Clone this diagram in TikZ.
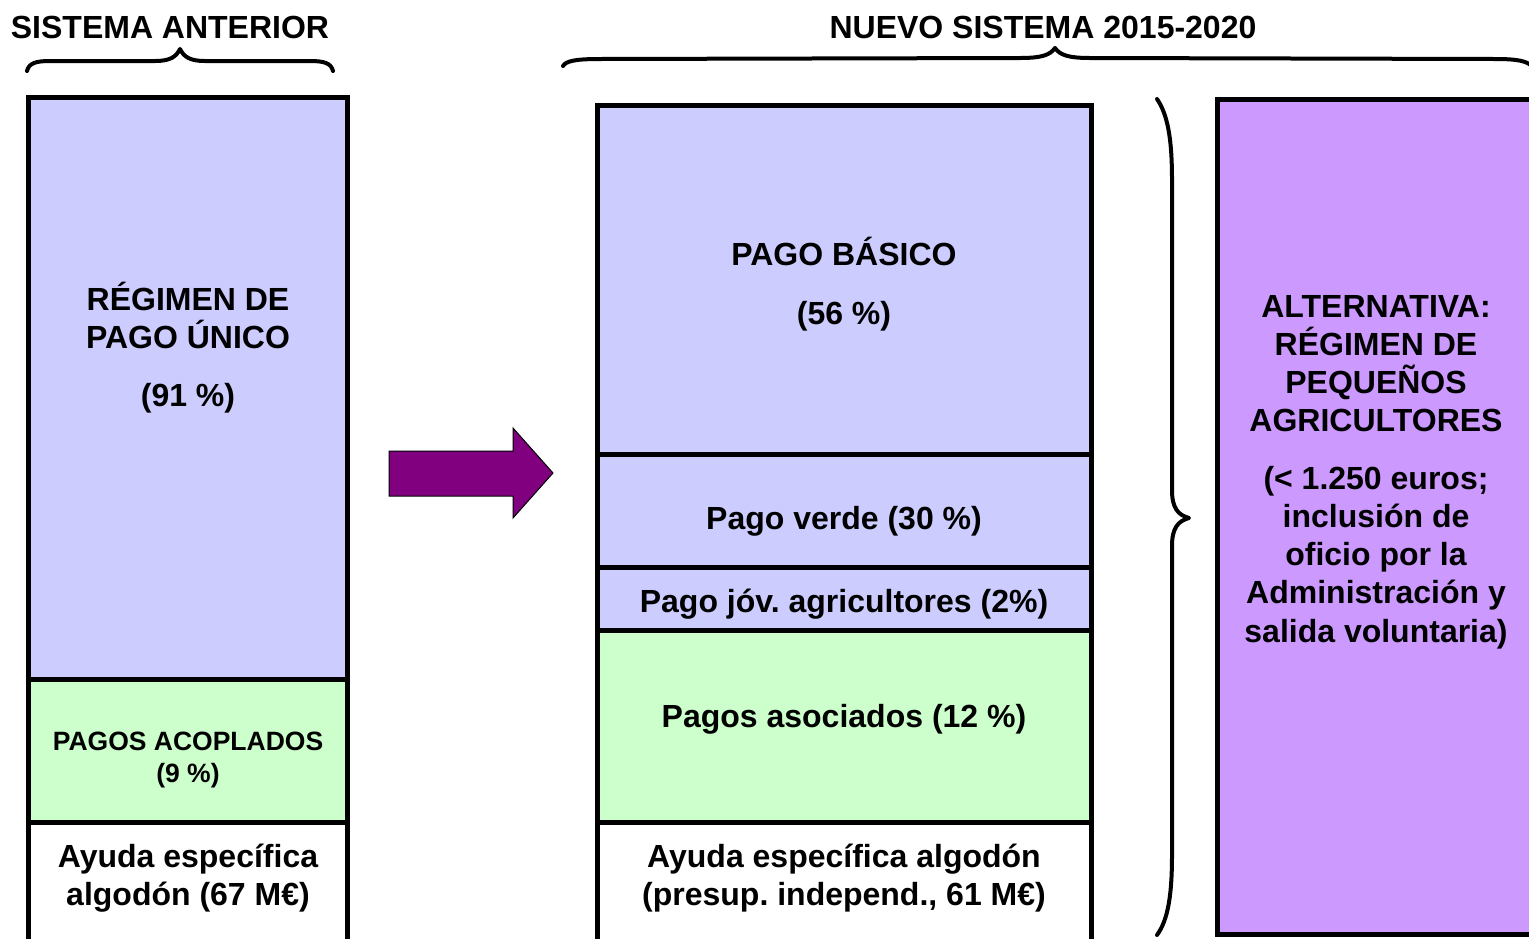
\documentclass[tikz,border=0pt]{standalone}
\usepackage{fontspec}
\setmainfont{Liberation Sans}
\definecolor{lav}{HTML}{CCCCFF}
\definecolor{grn}{HTML}{CCFFCC}
\definecolor{purp}{HTML}{CC99FF}
\definecolor{arrowc}{HTML}{800080}
\begin{document}
\frenchspacing
\begin{tikzpicture}[x=1pt,y=-1pt,
  seg/.style={draw=black,line width=5pt,anchor=north west,inner sep=0pt,outer sep=0pt},
  txt/.style={anchor=base,inner sep=0pt,font=\bfseries\fontsize{32}{38}\selectfont},
  smalltxt/.style={anchor=base,inner sep=0pt,font=\bfseries\fontsize{26.5}{32}\selectfont},
  bracepath/.style={draw=black,line width=4pt,line cap=round,line join=round}]
\useasboundingbox (0,0) rectangle (1529,938);
% left column
\node[seg,fill=lav,minimum width=319pt,minimum height=582pt] (lt) at (28.5,97) {};
\node[seg,fill=grn,minimum width=319pt,minimum height=143pt] (lm) at (28.5,679) {};
\node[seg,fill=white,minimum width=319pt,minimum height=120pt] (lb) at (28.5,822) {};
% middle column
\node[seg,fill=lav,minimum width=494pt,minimum height=349pt] (m1) at (597,105) {};
\node[seg,fill=lav,minimum width=494pt,minimum height=113pt] (m2) at (597,454) {};
\node[seg,fill=lav,minimum width=494pt,minimum height=63pt] (m3) at (597,567) {};
\node[seg,fill=grn,minimum width=494pt,minimum height=192pt] (m4) at (597,630) {};
\node[seg,fill=white,minimum width=494pt,minimum height=120pt] (m5) at (597,822) {};
% right box
\node[seg,fill=purp,minimum width=340pt,minimum height=835pt] (rb) at (1217,99.5) {};
% arrow
\draw[fill=arrowc,draw=black,line width=1pt,line join=miter]
  (389,451) -- (513,451) -- (513,428) -- (553,473) -- (513,518) -- (513,496) -- (389,496) -- cycle;
% titles
\node[txt] (t1) at (170,38.5) {SISTEMA ANTERIOR};
\node[txt] (t2) at (1043,38.5) {NUEVO SISTEMA 2015-2020};
% braces
\draw[bracepath] (27,71) .. controls (29,63) and (36,61) .. (50,61) -- (155,61)
  .. controls (170,61) and (176,57) .. (180,49) .. controls (184,57) and (190,61) .. (205,61)
  -- (310,61) .. controls (324,61) and (331,63) .. (333,71);
\draw[bracepath] (563,66) .. controls (566,61) and (575,59) .. (600,59) -- (1020,58)
  .. controls (1042,58) and (1050,55) .. (1055,48) .. controls (1060,55) and (1068,58) .. (1090,58)
  -- (1495,59) .. controls (1518,59) and (1526,61) .. (1532,66);
\draw[bracepath] (1157,99) .. controls (1168,115) and (1172,140) .. (1172,180) -- (1172,490)
  .. controls (1172,508) and (1178,515) .. (1189,518) .. controls (1178,521) and (1172,528) .. (1172,546)
  -- (1172,855) .. controls (1172,895) and (1168,920) .. (1157,935);
% left texts
\node[txt] (l1) at (188,310) {RÉGIMEN DE};
\node[txt] (l2) at (188,348) {PAGO ÚNICO};
\node[txt] (l3) at (188,406) {(91 \%)};
\node[smalltxt] (l4) at (188,750) {PAGOS ACOPLADOS};
\node[smalltxt] (l5) at (188,782) {(9 \%)};
\node[txt] (l6) at (188,867) {Ayuda específica};
\node[txt] (l7) at (188,905) {algodón (67 M€)};
% middle texts
\node[txt] (c1) at (844,265) {PAGO BÁSICO};
\node[txt] (c2) at (844,324) {(56 \%)};
\node[txt] (c3) at (844,529) {Pago verde (30 \%)};
\node[txt] (c4) at (844,612) {Pago jóv. agricultores (2\%)};
\node[txt] (c5) at (844,727) {Pagos asociados (12 \%)};
\node[txt] (c6) at (844,867) {Ayuda específica algodón};
\node[txt] (c7) at (844,905) {(presup. independ., 61 M€)};
% right texts
\node[txt] (r1) at (1376,317) {ALTERNATIVA:};
\node[txt] (r2) at (1376,355) {RÉGIMEN DE};
\node[txt] (r3) at (1376,393) {PEQUEÑOS};
\node[txt] (r4) at (1376,431) {AGRICULTORES};
\node[txt] (r5) at (1376,489) {(< 1.250 euros;};
\node[txt] (r6) at (1376,527) {inclusión de};
\node[txt] (r7) at (1376,565) {oficio por la};
\node[txt] (r8) at (1376,603) {Administración y};
\node[txt] (r9) at (1376,642) {salida voluntaria)};
\end{tikzpicture}
\end{document}
